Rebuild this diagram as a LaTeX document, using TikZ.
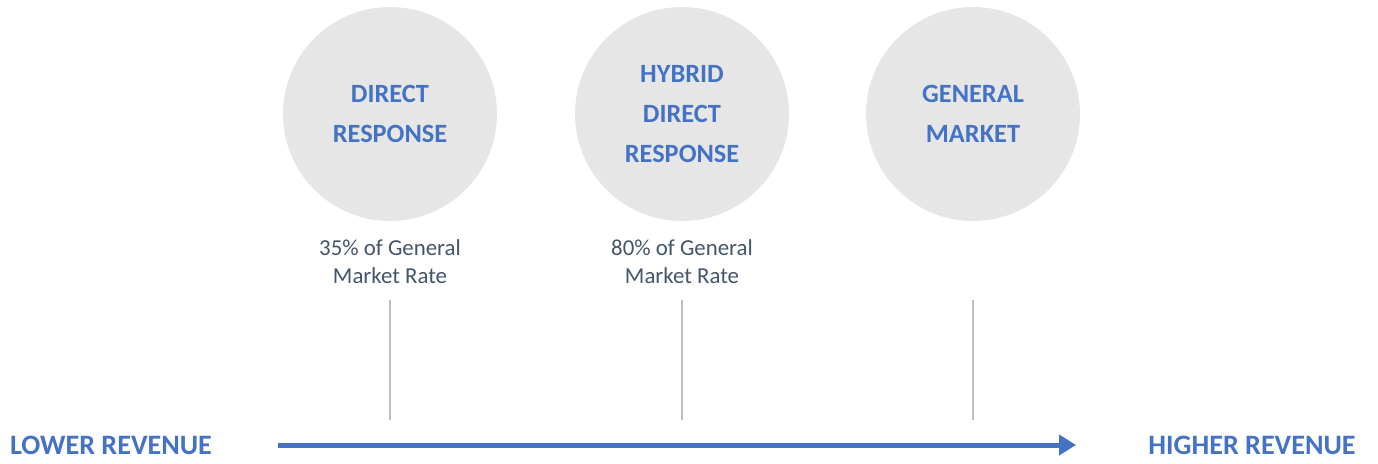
\documentclass[tikz,border=0pt]{standalone}
\usepackage{fontspec}
\setmainfont{Carlito}
\definecolor{revblue}{RGB}{68,114,196}
\definecolor{discgray}{RGB}{231,230,230}
\definecolor{notegray}{RGB}{68,84,106}
\definecolor{rulegray}{RGB}{191,191,191}
\usetikzlibrary{arrows.meta,positioning}

\begin{document}
\begin{tikzpicture}[x=0.02cm,y=0.02cm,
        disc/.style={circle,fill=discgray,minimum size=4.28cm,inner sep=0pt,
                     text=revblue,align=center,
                     font=\bfseries\fontsize{15}{23}\selectfont},
        note/.style={text=notegray,align=center,
                     font=\fontsize{13}{16}\selectfont},
        endlabel/.style={text=revblue,font=\bfseries\fontsize{16}{19}\selectfont},
        tick/.style={rulegray,line width=0.04cm},
        axis/.style={-{Triangle[length=0.34cm,width=0.4cm]},revblue,line width=0.1cm}]
        \useasboundingbox (0,0) rectangle (1378,463);
        % the three market types
        \node[disc] (dr)  at (390,349) {DIRECT\\RESPONSE};
        \node[disc] (hdr) at (682,349) {HYBRID\\DIRECT\\RESPONSE};
        \node[disc] (gm)  at (973,349) {GENERAL\\MARKET};
        % rates under the discs
        \node[note] (drrate)  at (390,201) {35\% of General\\Market Rate};
        \node[note] (hdrrate) at (682,201) {80\% of General\\Market Rate};
        % markers down to the axis
        \coordinate (drtop)  at (390,163);
        \coordinate (drbot)  at (390,43);
        \coordinate (hdrtop) at (682,163);
        \coordinate (hdrbot) at (682,43);
        \coordinate (gmtop)  at (973,163);
        \coordinate (gmbot)  at (973,43);
        \draw[tick] (drtop) -- (drbot);
        \draw[tick] (hdrtop) -- (hdrbot);
        \draw[tick] (gmtop) -- (gmbot);
        % revenue axis
        \node[endlabel] (low)  at (111,18)  {LOWER REVENUE};
        \node[endlabel] (high) at (1252,18) {HIGHER REVENUE};
        \coordinate (axstart) at (278,18);
        \coordinate (axend)   at (1076,18);
        \draw[axis] (axstart) -- (axend);
\end{tikzpicture}
\end{document}
